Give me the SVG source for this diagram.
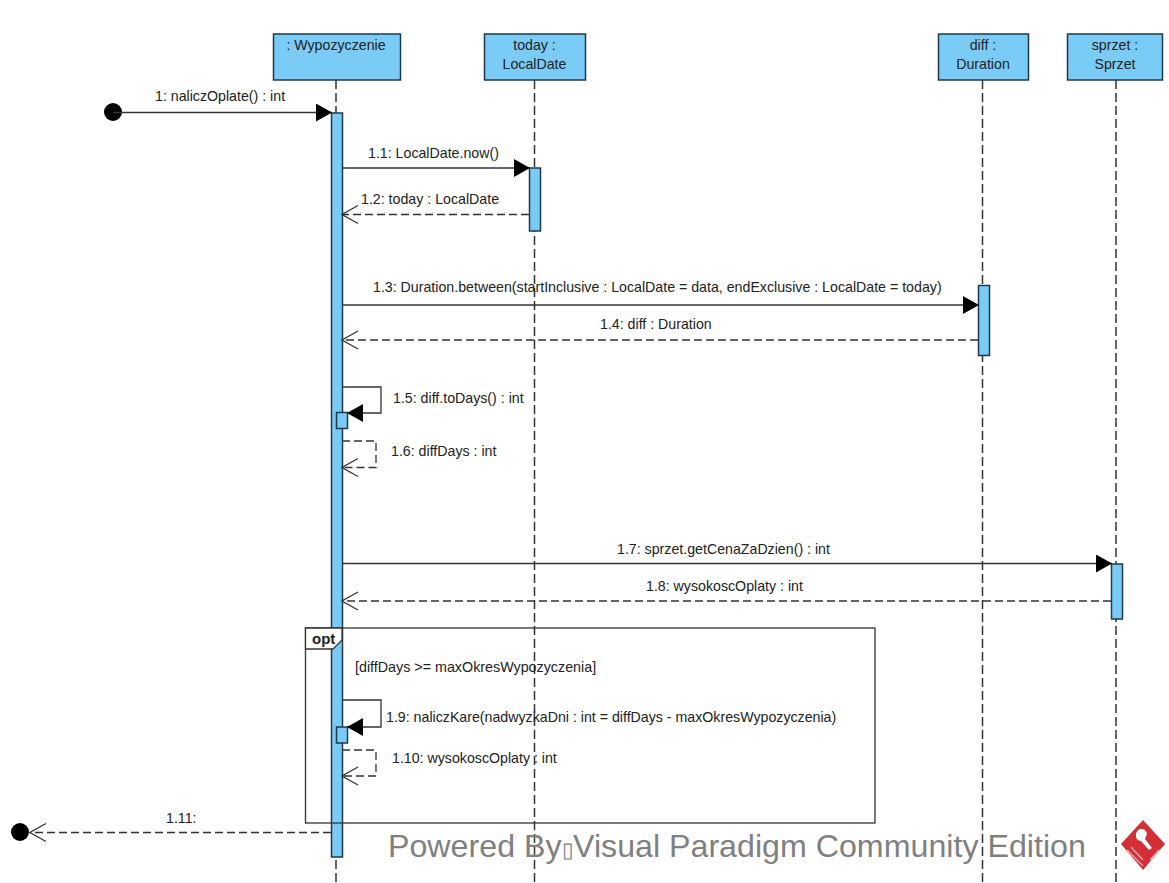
<svg xmlns="http://www.w3.org/2000/svg" width="1169" height="883" viewBox="0 0 1169 883">
<style>
text{font-family:"Liberation Sans",Arial,sans-serif;font-size:14.2px;fill:#222}
.m{text-anchor:middle}
.box{fill:#7accf6;stroke:#1f3a4a;stroke-width:1.5}
.life{stroke:#333;stroke-width:1.5;stroke-dasharray:9 4;fill:none}
.msg{stroke:#333;stroke-width:1.3;fill:none}
.sync{marker-end:url(#filled)}
.ret{stroke-dasharray:8 4;marker-end:url(#open)}
.end{fill:#000}
.frame{fill:none;stroke:#333;stroke-width:1.3}
.tab{fill:#fff;stroke:#333;stroke-width:1.3}
</style>
<defs>
<marker id="filled" markerUnits="userSpaceOnUse" markerWidth="17" markerHeight="18" refX="16" refY="9" orient="auto"><path d="M0 0L16 9L0 18Z" fill="#000"/></marker>
<marker id="open" markerUnits="userSpaceOnUse" markerWidth="18" markerHeight="20" refX="17" refY="10" orient="auto"><path d="M1 1L17 10L1 19" fill="none" stroke="#333" stroke-width="1.2"/></marker>
</defs>
<rect width="1169" height="883" fill="#fff"/>
<g id="lifelines">
<path class="life" d="M336 80V883"/>
<path class="life" d="M534.500 80V883"/>
<path class="life" d="M982.500 80V883"/>
<path class="life" d="M1116 80V883"/>
</g>
<g id="node-wypozyczenie"><rect class="box" x="273.500" y="34" width="127" height="46"/><text class="m" x="336" y="50">: Wypozyczenie</text></g>
<g id="node-today"><rect class="box" x="484.500" y="34" width="101" height="46"/><text class="m" x="534.500" y="50">today :</text><text class="m" x="534.500" y="69">LocalDate</text></g>
<g id="node-diff"><rect class="box" x="938.500" y="34" width="90" height="46"/><text class="m" x="983" y="50">diff :</text><text class="m" x="983" y="69">Duration</text></g>
<g id="node-sprzet"><rect class="box" x="1067.500" y="34" width="95" height="46"/><text class="m" x="1115" y="50">sprzet :</text><text class="m" x="1115" y="69">Sprzet</text></g>
<g id="activations">
<rect class="box" x="331.500" y="113" width="11" height="744"/>
<rect class="box" x="529.500" y="168" width="11" height="63"/>
<rect class="box" x="978.500" y="285.500" width="11" height="70"/>
<rect class="box" x="1111.500" y="564" width="11" height="55"/>
<rect class="box" x="336.500" y="412.500" width="11" height="16"/>
<rect class="box" x="336.500" y="727" width="11" height="16"/>
</g>
<g id="frame-opt">
<rect class="frame" x="305.500" y="628" width="569.500" height="195"/>
<path class="tab" d="M305.500 628H342V640L333 649H305.500Z"/>
<text x="312" y="644" style="font-weight:700;font-size:15px">opt</text>
<text x="355" y="672" style="font-size:14.3px">[diffDays &gt;= maxOkresWypozyczenia]</text>
</g>
<g id="connectors">
<circle class="end" cx="113" cy="112" r="9"/>
<path class="msg sync" d="M113 112.500H332"/>
<path class="msg sync" d="M342 168H530"/>
<path class="msg ret" d="M529 214.500H342"/>
<path class="msg sync" d="M342 305H979"/>
<path class="msg ret" d="M978 340H342"/>
<path class="msg sync" d="M342 387H381V413H347"/>
<path class="msg ret" d="M342 441H376V467.500H342"/>
<path class="msg sync" d="M342 563.500H1112"/>
<path class="msg ret" d="M1111 601H342"/>
<path class="msg sync" d="M342 700H381V727H347"/>
<path class="msg ret" d="M342 750H376V776H342"/>
<path class="msg ret" d="M331 832.500H30"/>
<circle class="end" cx="20" cy="832" r="9"/>
</g>
<g id="labels">
<text x="155" y="101">1: naliczOplate() : int</text>
<text x="368" y="158">1.1: LocalDate.now()</text>
<text x="361" y="204">1.2: today : LocalDate</text>
<text x="373" y="292">1.3: Duration.between(startInclusive : LocalDate = data, endExclusive : LocalDate = today)</text>
<text x="600" y="329">1.4: diff : Duration</text>
<text x="393" y="403">1.5: diff.toDays() : int</text>
<text x="391" y="456">1.6: diffDays : int</text>
<text x="617" y="554">1.7: sprzet.getCenaZaDzien() : int</text>
<text x="646" y="591">1.8: wysokoscOplaty : int</text>
<text x="386" y="722">1.9: naliczKare(nadwyzkaDni : int = diffDays - maxOkresWypozyczenia)</text>
<text x="392" y="763">1.10: wysokoscOplaty : int</text>
<text x="166" y="823">1.11:</text>
</g>
<g id="watermark">
<text x="388" y="857" style="font-size:32.200px;fill:#808080">Powered By<tspan style="font-size:21px">▯</tspan><tspan x="573">Visual Paradigm Community Edition</tspan></text>
<path d="M1143 820L1165 844L1143 870L1121 844Z" fill="#d32f36"/>
<path d="M1136 835a5.500 5.500 0 0 1 11-1l-2 5l7 9l-3 2l-8-9a5 5 0 0 1-5-6Z" fill="#fff"/>
<path d="M1127 850L1143 866M1131 847L1143 860M1159 850L1150 860" fill="none" stroke="#efb4b7" stroke-width="1.200"/>
</g>
</svg>
